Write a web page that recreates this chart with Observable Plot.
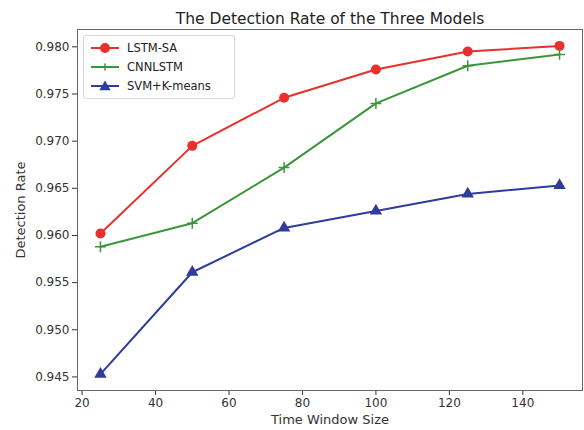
<!DOCTYPE html>
<html>
<head>
<meta charset="utf-8">
<script src="https://cdn.jsdelivr.net/npm/d3@7"></script>
<script src="https://cdn.jsdelivr.net/npm/@observablehq/plot@0.6"></script>
<style>
  body { margin: 0; background: #fff; font-family: "DejaVu Sans", sans-serif; }
  #wrap { position: relative; width: 584px; height: 430px; }
  #legend { position: absolute; left: 83px; top: 35px; width: 150px; height: 62px;
    border: 1px solid #d6d6d6; border-radius: 3px; background: rgba(255,255,255,0.85);
    font: 11.5px "DejaVu Sans", sans-serif; color: #222; }
  .row { position: absolute; left: 6px; height: 18px; display: flex; align-items: center; }
  .row span { margin-left: 7px; }
  .xl, .yl { font-size: 13px; }
</style>
</head>
<body>
<div id="wrap"></div>
<script>
const title = "The Detection Rate of the Three Models";
const xLabel = "Time Window Size";
const yLabel = "Detection Rate";
const windows = [25, 50, 75, 100, 125, 150];
const seriesNames = ["LSTM-SA", "CNNLSTM", "SVM+K-means"];
const lstmSA = [0.9602, 0.9695, 0.9746, 0.9776, 0.9795, 0.9801];
const cnnlstm = [0.9588, 0.9613, 0.9672, 0.9740, 0.9780, 0.9792];
const svmKmeans = [0.9453, 0.9561, 0.9608, 0.9626, 0.9644, 0.9653];
const xTicks = [20, 40, 60, 80, 100, 120, 140];
const yTicks = [0.945, 0.950, 0.955, 0.960, 0.965, 0.970, 0.975, 0.980];

const colors = ["#e8302c", "#3b963b", "#2e3d9c"];
const symbols = ["circle", "plus", "triangle"];
const valueSets = [lstmSA, cnnlstm, svmKmeans];

const rows = [];
seriesNames.forEach((s, i) => windows.forEach((w, j) => rows.push({series: s, x: w, y: valueSets[i][j]})));

const lineMarks = seriesNames.map((s, i) => Plot.line(rows.filter(d => d.series === s), {
  x: "x", y: "y", stroke: colors[i], strokeWidth: 2
}));
const dotMarks = [
  Plot.dot(rows.filter(d => d.series === seriesNames[0]), {x: "x", y: "y", fill: colors[0], r: 5, symbol: "circle"}),
  Plot.dot(rows.filter(d => d.series === seriesNames[1]), {x: "x", y: "y", stroke: colors[1], strokeWidth: 1.5, r: 3.6, symbol: "plus"}),
  Plot.dot(rows.filter(d => d.series === seriesNames[2]), {x: "x", y: "y", fill: colors[2], r: 4.6, symbol: "triangle"})
];

const chart = Plot.plot({
  width: 584,
  height: 430,
  marginLeft: 77,
  marginRight: 2,
  marginTop: 29,
  marginBottom: 40,
  style: {fontFamily: "DejaVu Sans, sans-serif", fontSize: "12px", color: "#333", background: "#fff"},
  x: {domain: [18.75, 156.25], ticks: xTicks, tickSize: 5, tickPadding: 3, label: xLabel, labelAnchor: "center", labelOffset: 33, labelArrow: "none"},
  y: {domain: [0.94356, 0.98184], ticks: yTicks, tickFormat: d3.format(".3f"), tickSize: 5, tickPadding: 3, label: yLabel, labelAnchor: "center", labelOffset: 62, labelArrow: "none"},
  marks: [
    Plot.frame({stroke: "#666", strokeWidth: 1}),
    ...lineMarks,
    ...dotMarks,
    Plot.text([title], {frameAnchor: "top", dy: -17, fontSize: 15.5, fill: "#222"})
  ]
});
// enlarge axis label text slightly
chart.querySelectorAll("g[aria-label='x-axis label'] text, g[aria-label='y-axis label'] text").forEach(t => t.setAttribute("font-size", "13"));
document.getElementById("wrap").appendChild(chart);

const legend = document.createElement("div");
legend.id = "legend";
seriesNames.forEach((s, i) => {
  const row = document.createElement("div");
  row.className = "row";
  row.style.top = (3 + i * 19) + "px";
  const svg = d3.create("svg").attr("width", 30).attr("height", 14);
  svg.append("line").attr("x1", 1).attr("x2", 29).attr("y1", 7).attr("y2", 7).attr("stroke", colors[i]).attr("stroke-width", 2);
  if (symbols[i] === "circle") svg.append("circle").attr("cx", 15).attr("cy", 7).attr("r", 5).attr("fill", colors[i]);
  if (symbols[i] === "plus") svg.append("path").attr("d", "M15,3.5V10.5M11.5,7H18.5").attr("stroke", colors[i]).attr("stroke-width", 1.5);
  if (symbols[i] === "triangle") svg.append("path").attr("d", d3.symbol(d3.symbolTriangle, 55)()).attr("transform", "translate(15,8)").attr("fill", colors[i]);
  row.appendChild(svg.node());
  const t = document.createElement("span");
  t.textContent = s;
  row.appendChild(t);
  legend.appendChild(row);
});
document.getElementById("wrap").appendChild(legend);
</script>
</body>
</html>
